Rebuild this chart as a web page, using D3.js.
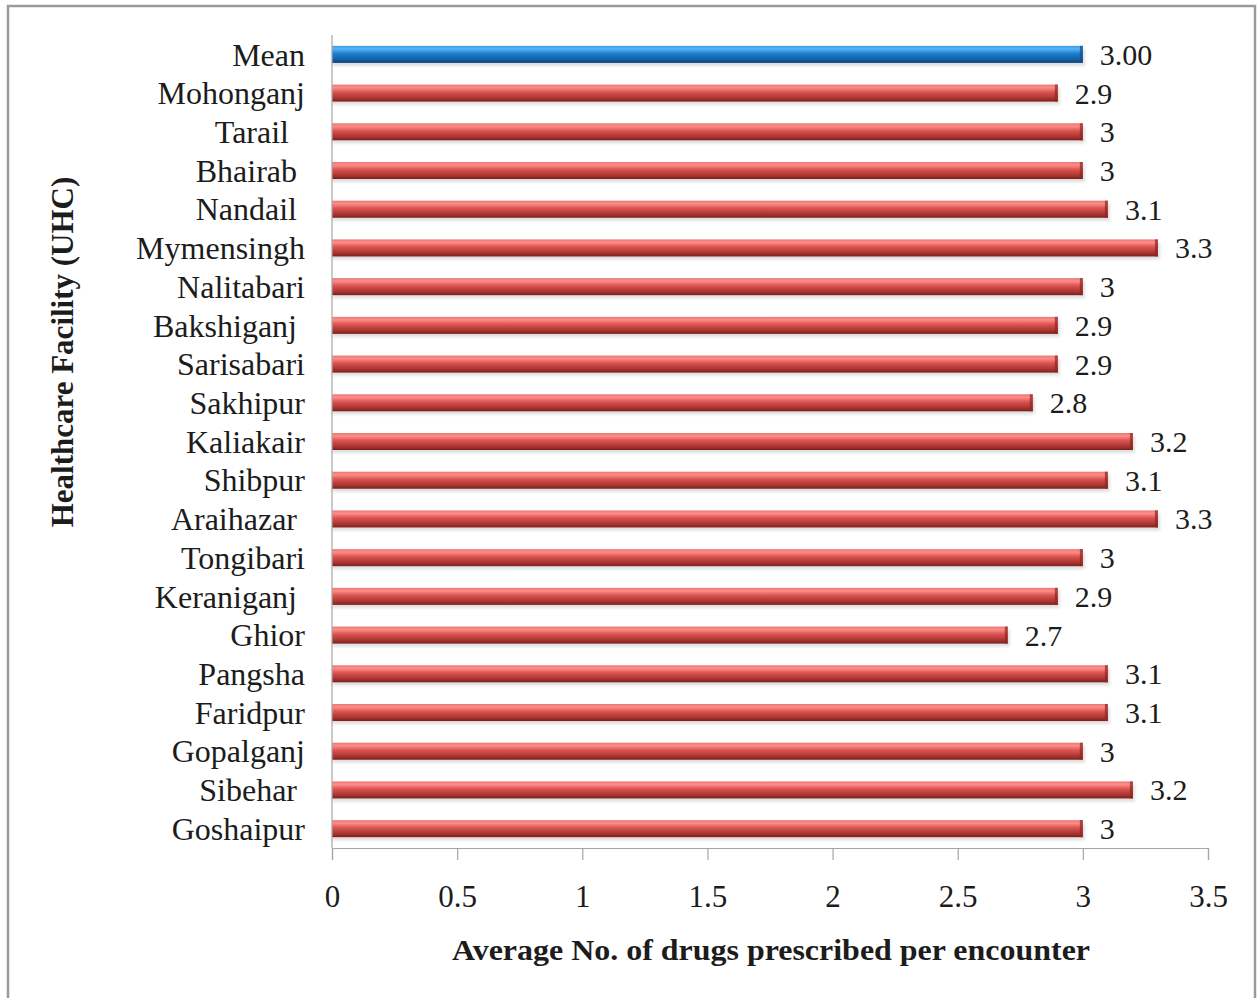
<!DOCTYPE html>
<html>
<head>
<meta charset="utf-8">
<script src="https://cdn.jsdelivr.net/npm/d3@7"></script>
<style>
  html, body { margin: 0; padding: 0; background: #fff; }
  svg { display: block; }
  text { white-space: pre; }
</style>
</head>
<body>
<svg id="chart" width="1259" height="998"></svg>
<script>
// Facilities, top to bottom, as typed in the category column
const facilities = ["Mean", "Mohonganj", "Tarail  ", "Bhairab ", "Nandail ", "Mymensingh",
  "Nalitabari", "Bakshiganj ", "Sarisabari", "Sakhipur", "Kaliakair", "Shibpur",
  "Araihazar ", "Tongibari", "Keraniganj ", "Ghior", "Pangsha", "Faridpur",
  "Gopalganj", "Sibehar ", "Goshaipur"];
// Average number of drugs prescribed per encounter
const drugsPerEncounter = [3.00, 2.9, 3, 3, 3.1, 3.3, 3, 2.9, 2.9, 2.8, 3.2, 3.1,
  3.3, 3, 2.9, 2.7, 3.1, 3.1, 3, 3.2, 3];
const valueLabels = ["3.00", "2.9", "3", "3", "3.1", "3.3", "3", "2.9", "2.9", "2.8",
  "3.2", "3.1", "3.3", "3", "2.9", "2.7", "3.1", "3.1", "3", "3.2", "3"];
const xTicks = [0, 0.5, 1, 1.5, 2, 2.5, 3, 3.5];

const svg = d3.select("#chart");
const font = "'Liberation Serif', 'Times New Roman', serif";
const ink = "#1c1c1c";

// outer frame
svg.append("rect")
  .attr("x", 8).attr("y", 6).attr("width", 1247).attr("height", 998)
  .attr("fill", "#fff").attr("stroke", "#9a9a9a").attr("stroke-width", 2.5);

const x = d3.scaleLinear().domain([0, 3.5]).range([332, 1208]);
const y = d3.scaleBand().domain(facilities).range([35, 848]).paddingInner(0.56).paddingOuter(0.28);

// bar gradients
const defs = svg.append("defs");
function grad(id, stops) {
  const g = defs.append("linearGradient").attr("id", id)
    .attr("x1", 0).attr("y1", 0).attr("x2", 0).attr("y2", 1);
  stops.forEach(s => g.append("stop").attr("offset", s[0]).attr("stop-color", s[1]));
}
grad("gRed", [[0, "#e87a78"], [0.18, "#ff8c88"], [0.45, "#d9534f"], [0.8, "#a83430"], [1, "#7c1f1c"]]);
grad("gBlue", [[0, "#3d9be0"], [0.18, "#55b5f5"], [0.45, "#1f7fd0"], [0.8, "#155fa5"], [1, "#0d4077"]]);
defs.append("filter").attr("id", "shadow")
  .append("feGaussianBlur").attr("stdDeviation", 1.6);

const rows = facilities.map((f, i) => ({ f, v: drugsPerEncounter[i], label: valueLabels[i] }));

// soft shadows under the bars
svg.append("g").selectAll("rect").data(rows).join("rect")
  .attr("x", x(0)).attr("y", d => y(d.f) + 3)
  .attr("width", d => x(d.v) - x(0) + 2).attr("height", y.bandwidth())
  .attr("fill", "#000").attr("opacity", 0.13).attr("filter", "url(#shadow)");

// bars
svg.append("g").selectAll("rect").data(rows).join("rect")
  .attr("x", x(0)).attr("y", d => y(d.f))
  .attr("width", d => x(d.v) - x(0)).attr("height", y.bandwidth())
  .attr("fill", d => d.f === "Mean" ? "url(#gBlue)" : "url(#gRed)");

// darker end caps
svg.append("g").selectAll("rect").data(rows).join("rect")
  .attr("x", d => x(d.v) - 3).attr("y", d => y(d.f))
  .attr("width", 3).attr("height", y.bandwidth())
  .attr("fill", d => d.f === "Mean" ? "#0f4f8f" : "#8e2522").attr("opacity", 0.7);

// vertical axis line
svg.append("line")
  .attr("x1", x(0)).attr("x2", x(0)).attr("y1", 35).attr("y2", 848)
  .attr("stroke", "#a6a6a6").attr("stroke-width", 1.2);

// x axis
const xAxis = svg.append("g").attr("transform", "translate(0,848)")
  .call(d3.axisBottom(x).tickValues(xTicks).tickSize(12).tickPadding(25)
    .tickFormat(d => String(d)));
xAxis.select(".domain").attr("stroke", "#a6a6a6").attr("stroke-width", 1.2);
xAxis.selectAll(".tick line").attr("stroke", "#a6a6a6").attr("stroke-width", 1.2);
xAxis.selectAll(".tick text").attr("font-family", font).attr("font-size", 31)
  .attr("fill", ink);

// category labels
svg.append("g").selectAll("text").data(rows).join("text")
  .attr("x", 305).attr("y", d => y(d.f) + y.bandwidth() / 2)
  .attr("dy", "0.35em").attr("text-anchor", "end")
  .attr("font-family", font).attr("font-size", 32).attr("fill", ink)
  .text(d => d.f);

// value labels
svg.append("g").selectAll("text").data(rows).join("text")
  .attr("x", d => x(d.v) + 17).attr("y", d => y(d.f) + y.bandwidth() / 2)
  .attr("dy", "0.35em").attr("text-anchor", "start")
  .attr("font-family", font).attr("font-size", 30).attr("fill", ink)
  .text(d => d.label);

// axis titles
svg.append("text")
  .attr("x", 771).attr("y", 960).attr("text-anchor", "middle")
  .attr("font-family", font).attr("font-size", 29).attr("font-weight", "bold")
  .attr("fill", ink)
  .attr("textLength", 638).attr("lengthAdjust", "spacingAndGlyphs")
  .text("Average No. of drugs prescribed per encounter");

svg.append("text")
  .attr("transform", "translate(73,352) rotate(-90)").attr("text-anchor", "middle")
  .attr("font-family", font).attr("font-size", 31).attr("font-weight", "bold")
  .attr("fill", ink)
  .text("Healthcare Facility (UHC)");
</script>
</body>
</html>
